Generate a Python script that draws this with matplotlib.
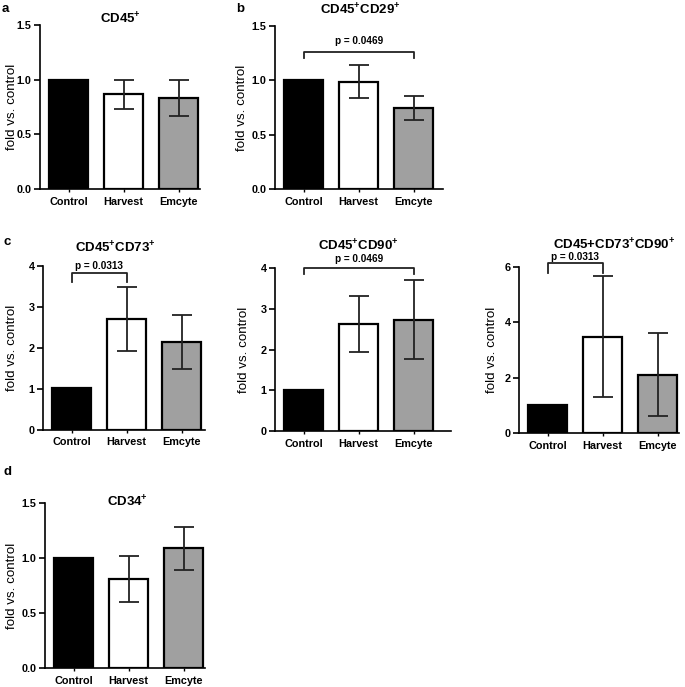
import matplotlib
matplotlib.use("Agg")
import matplotlib.pyplot as plt

plt.rcParams['font.family'] = ['Liberation Sans', 'DejaVu Sans']
plt.rcParams['mathtext.fontset'] = 'custom'
plt.rcParams['mathtext.rm'] = 'Liberation Sans'
plt.rcParams['mathtext.bf'] = 'Liberation Sans:bold'

categories = ["Control", "Harvest", "Emcyte"]
colors = ["#000000", "#ffffff", "#a0a0a0"]

# panel a: CD45+
a_means = [1.0, 0.866, 0.832]
a_err = [0.0, 0.13, 0.165]
# panel b: CD45+CD29+
b_means = [1.0, 0.988, 0.748]
b_err = [0.0, 0.15, 0.11]
# panel c1: CD45+CD73+
c1_means = [1.006, 2.70, 2.13]
c1_err = [0.0, 0.79, 0.66]
# panel c2: CD45+CD90+
c2_means = [1.01, 2.62, 2.735]
c2_err = [0.0, 0.69, 0.975]
# panel c3: CD45+CD73+CD90+
c3_means = [1.03, 3.48, 2.10]
c3_err = [0.0, 2.19, 1.50]
# panel d: CD34+
d_means = [1.0, 0.809, 1.087]
d_err = [0.0, 0.21, 0.197]

W, H = 685, 687
UNIT = 55.0
fig = plt.figure(figsize=(W / 100, H / 100), dpi=100)


def px_axes(left, top, bottom, width):
    return fig.add_axes([left / W, 1 - bottom / H, width / W, (bottom - top) / H])


def draw(ax, means, err, ymax, yticks, fmt, width_px, label_off):
    x = list(range(len(categories)))
    ax.bar(x, means, width=0.7, color=colors, edgecolor="black", linewidth=1.6, zorder=2)
    for xi, m, e in zip(x, means, err):
        if e > 0:
            ax.errorbar(xi, m, yerr=e, fmt="none", ecolor="#222222", elinewidth=1.3,
                        capsize=7, capthick=1.3, zorder=3)
    ax.set_xlim(-0.52, -0.52 + width_px / UNIT)
    ax.set_ylim(0, ymax)
    ax.set_yticks(yticks)
    ax.set_yticklabels([fmt.format(t) for t in yticks])
    ax.set_xticks(x)
    ax.set_xticklabels(categories)
    for sp in ["top", "right"]:
        ax.spines[sp].set_visible(False)
    for sp in ["left", "bottom"]:
        ax.spines[sp].set_linewidth(1.2)
    ax.tick_params(axis="y", direction="out", length=4, width=1.2, labelsize=7.8, pad=2)
    ax.tick_params(axis="x", direction="out", length=2.5, width=1.0, labelsize=7.8, pad=3)
    for lab in ax.get_xticklabels() + ax.get_yticklabels():
        lab.set_fontweight("bold")
    ax.set_ylabel("fold vs. control", fontsize=9.6)
    ax.yaxis.set_label_coords(-label_off / width_px, 0.5)


def bracket(ax, x0, x1, y, drop, ytext, text):
    ax.plot([x0, x0, x1, x1], [y - drop, y, y, y - drop], color="#222222", lw=1.3,
            clip_on=False, zorder=4)
    ax.text((x0 + x1) / 2, ytext, text, ha="center", va="center", fontsize=7.2,
            fontweight="bold", clip_on=False)


def title(x, y, s):
    fig.text(x / W, 1 - y / H, s, ha="center", va="center", fontsize=9.5, fontweight="bold")


def letter(x, y, s):
    fig.text(x / W, 1 - y / H, s, ha="left", va="center", fontsize=9.5, fontweight="bold")


# a
ax_a = px_axes(40, 25, 189, 160)
draw(ax_a, a_means, a_err, 1.5, [0.0, 0.5, 1.0, 1.5], "{:.1f}", 160, 22)
title(120, 19, r"CD45$^{\mathbf{+}}$")
letter(2, 9, "a")

# b
ax_b = px_axes(275, 26, 189, 168)
draw(ax_b, b_means, b_err, 1.5, [0.0, 0.5, 1.0, 1.5], "{:.1f}", 168, 27)
bracket(ax_b, 0, 2, 1.264, 0.055, 1.365, "p = 0.0469")
title(360, 10, r"CD45$^{\mathbf{+}}$CD29$^{\mathbf{+}}$")
letter(236, 9, "b")

# c1
ax_c1 = px_axes(43, 266, 429.5, 162)
draw(ax_c1, c1_means, c1_err, 4, [0, 1, 2, 3, 4], "{:d}", 162, 25)
bracket(ax_c1, 0, 1, 3.82, 0.21, 4.0, "p = 0.0313")
title(115, 248, r"CD45$^{\mathbf{+}}$CD73$^{\mathbf{+}}$")
letter(4, 242, "c")

# c2
ax_c2 = px_axes(275, 268, 431, 176)
draw(ax_c2, c2_means, c2_err, 4, [0, 1, 2, 3, 4], "{:d}", 176, 25)
bracket(ax_c2, 0, 2, 4.0, 0.14, 4.22, "p = 0.0469")
title(358, 246, r"CD45$^{\mathbf{+}}$CD90$^{\mathbf{+}}$")

# c3
ax_c3 = px_axes(519, 267, 433, 160)
draw(ax_c3, c3_means, c3_err, 6, [0, 2, 4, 6], "{:d}", 160, 21)
bracket(ax_c3, 0, 1, 6.14, 0.34, 6.36, "p = 0.0313")
title(614, 245, r"CD45+CD73$^{\mathbf{+}}$CD90$^{\mathbf{+}}$")

# d
ax_d = px_axes(45, 503, 668, 160)
draw(ax_d, d_means, d_err, 1.5, [0.0, 0.5, 1.0, 1.5], "{:.1f}", 160, 27)
title(127, 502, r"CD34$^{\mathbf{+}}$")
letter(4, 472, "d")

fig.savefig("out.png", dpi=100)
